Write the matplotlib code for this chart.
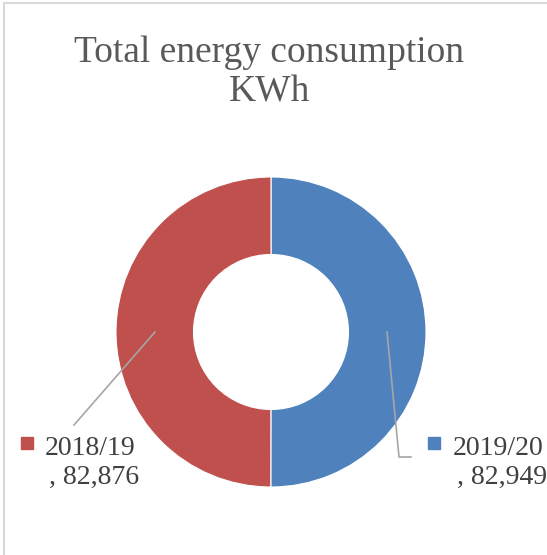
import matplotlib
matplotlib.use("Agg")
import matplotlib.pyplot as plt
from matplotlib.lines import Line2D

categories = ["2019/20", "2018/19"]
values = [82949, 82876]
colors = ["#4F81BD", "#C0504D"]
title_lines = ["Total energy consumption", "KWh"]

W, H = 547, 555
fig = plt.figure(figsize=(W / 100, H / 100), dpi=100)
ax = fig.add_axes([0, 0, 1, 1])

def Y(y):
    return H - y

cx, cy, R = 271, Y(332), 155
ax.pie(values, colors=colors, startangle=90, counterclock=False,
       center=(cx, cy), radius=R, frame=True,
       wedgeprops=dict(width=R * 0.5, edgecolor="white", linewidth=0.8))
ax.set_xlim(0, W)
ax.set_ylim(0, H)
ax.set_aspect("auto")
ax.axis("off")

font = "Liberation Serif"
for line, base in zip(title_lines, [62, 102]):
    ax.text(W / 2 - 4, Y(base), line, ha="center", va="baseline", fontsize=27,
            color="#595959", family=font)

# frame
ax.add_line(Line2D([4, 4], [0, Y(3)], color="#D9D9D9", lw=1.5))
ax.add_line(Line2D([4, W], [Y(3), Y(3)], color="#D9D9D9", lw=1.5))

# leader lines
lc = "#A6A6A6"
ax.add_line(Line2D([155, 74], [Y(332), Y(425)], color=lc, lw=1.2))
ax.add_line(Line2D([387, 399, 411], [Y(332), Y(457), Y(457)], color=lc, lw=1.2))

# labels
pos = {"2019/20": (434, 453), "2018/19": (27, 45)}
for cat, val, col in zip(categories, values, colors):
    sx, tx = pos[cat]
    ax.plot([sx], [Y(443)], marker="s", markersize=9, color=col, linestyle="none")
    ax.text(tx, Y(455), cat, ha="left", va="baseline", fontsize=20,
            color="#404040", family=font)
    ax.text(tx + 4, Y(484), f", {val:,}", ha="left", va="baseline", fontsize=20,
            color="#404040", family=font)

fig.savefig("out.png", dpi=100)
